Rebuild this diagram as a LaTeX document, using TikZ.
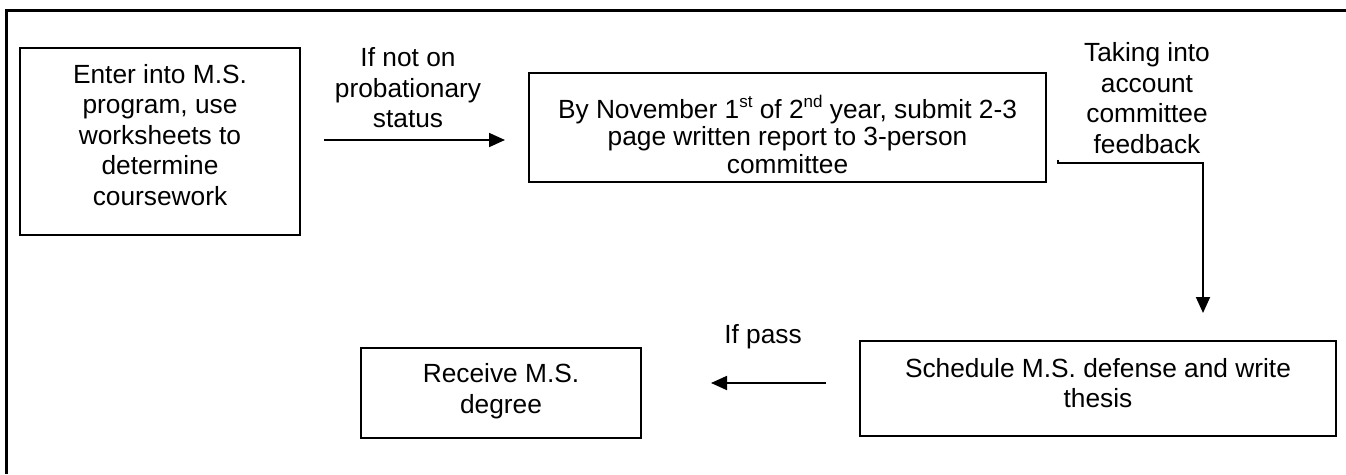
\documentclass[tikz,border=0pt]{standalone}
\usepackage{fontspec}
\setmainfont{Liberation Sans}
\usetikzlibrary{arrows.meta}
\newcommand\mysup[1]{\raisebox{0.42em}{\fontsize{17}{17}\selectfont #1}}
\begin{document}
\begin{tikzpicture}[x=1pt,y=-1pt,
  box/.style={draw, line width=1.8pt, inner sep=0pt},
  txt/.style={align=center, font=\fontsize{26.3}{30.5}\selectfont, inner sep=0pt},
  conn/.style={line width=1.8pt},
  arr/.style={line width=1.8pt, -{Triangle[length=16pt,width=14pt]}}]
\useasboundingbox (0,0) rectangle (1346,474);
% frame
\draw[line width=3pt] (6.5,474) -- (6.5,10.5) -- (1346,10.5);
% boxes
\node[box, minimum width=280pt, minimum height=187pt] (b1) at (160,141.5) {};
\node[txt] (t1) at (160,135) {Enter into M.S.\\program, use\\worksheets to\\determine\\coursework};
\node[box, minimum width=517pt, minimum height=109pt] (b2) at (787.5,127.5) {};
\node[txt, font=\fontsize{26.3}{27.5}\selectfont] (t2) at (787.5,134) {By November 1\mysup{st} of 2\mysup{nd} year, submit 2-3\\page written report to 3-person\\committee};
\node[box, minimum width=476pt, minimum height=95.3pt] (b3) at (1098,388.5) {};
\node[txt] (t3) at (1098,383) {Schedule M.S. defense and write\\thesis};
\node[box, minimum width=280pt, minimum height=90.3pt] (b4) at (501,393) {};
\node[txt] (t4) at (501,391) {Receive M.S.\\degree};
% labels
\node[txt] (l1) at (408,88) {If not on\\probationary\\status};
\node[txt] (l2) at (1147,98) {Taking into\\account\\committee\\feedback};
\node[txt] (l3) at (763,337) {If pass};
% connectors
\coordinate (a1s) at (324,140);
\coordinate (a1e) at (505,140);
\draw[arr] (a1s) -- (a1e);
\coordinate (a2s) at (1058,159.5);
\coordinate (a2k) at (1058,163);
\coordinate (a2c) at (1203,163);
\coordinate (a2e) at (1203,313);
\draw[arr, line join=miter] (a2s) -- (a2k) -- (a2c) -- (a2e);
\coordinate (a3s) at (826,383);
\coordinate (a3e) at (711,383);
\draw[arr] (a3s) -- (a3e);
\end{tikzpicture}
\end{document}
